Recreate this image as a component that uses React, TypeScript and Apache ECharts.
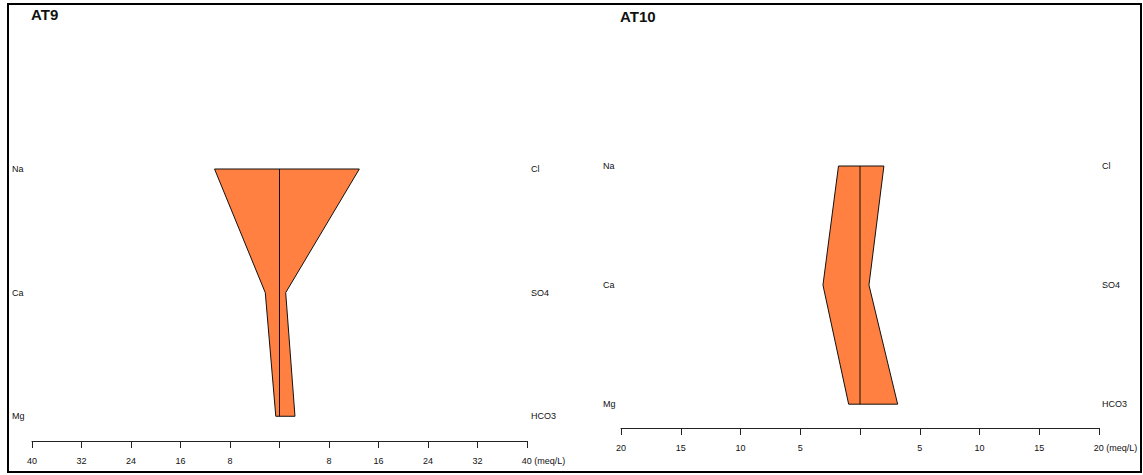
import React, { useEffect, useRef } from "react";
import * as echarts from "echarts";

const cations = ["Na", "Ca", "Mg"];
const anions = ["Cl", "SO4", "HCO3"];
const rowLevels = [2, 1, 0];

const at9Cations = [10.5, 2.3, 0.6];
const at9Anions = [12.9, 1.0, 2.5];

const at10Cations = [1.8, 3.1, 0.95];
const at10Anions = [2.0, 0.75, 3.15];

const at9Max = 40;
const at9Step = 8;
const at10Max = 20;
const at10Step = 5;

const FONT = "Liberation Sans, Arial, sans-serif";
const FILL = "#FF8040";

function stiffRender(cat: number[], an: number[]) {
  return (params: any, api: any) => {
    const pts: number[][] = [];
    for (let i = 0; i < cat.length; i++) pts.push(api.coord([-cat[i], rowLevels[i]]));
    for (let i = an.length - 1; i >= 0; i--) pts.push(api.coord([an[i], rowLevels[i]]));
    const top = api.coord([0, rowLevels[0]]);
    const bot = api.coord([0, rowLevels[rowLevels.length - 1]]);
    return {
      type: "group",
      children: [
        {
          type: "polygon",
          shape: { points: pts },
          style: { fill: FILL, stroke: "#111", lineWidth: 1 },
        },
        {
          type: "line",
          shape: { x1: top[0], y1: top[1], x2: bot[0], y2: bot[1] },
          style: { stroke: "#111", lineWidth: 1 },
        },
      ],
    };
  };
}

function xAxisFor(gridIndex: number, max: number, step: number) {
  return {
    type: "value",
    gridIndex,
    min: -max,
    max: max,
    interval: step,
    axisLine: { show: true, onZero: false, lineStyle: { color: "#222", width: 1 } },
    axisTick: { show: true, length: 7, lineStyle: { color: "#222", width: 1 } },
    splitLine: { show: false },
    axisLabel: {
      margin: 15,
      fontSize: 9,
      fontFamily: FONT,
      color: "#111",
      formatter: (v: number) =>
        v === 0 ? "" : v === max ? "{u|" + Math.abs(v) + " (meq/L)}" : String(Math.abs(v)),
      rich: { u: { fontSize: 9, fontFamily: FONT, color: "#111", padding: [0, 0, 0, 33] } },
    },
  };
}

function yAxisFor(gridIndex: number, names: string[], position: string, margin: number) {
  return {
    type: "value",
    gridIndex,
    position,
    min: -0.2,
    max: 2,
    axisLine: { show: false },
    axisTick: { show: false },
    splitLine: { show: false },
    axisLabel: {
      show: true,
      customValues: rowLevels,
      margin,
      align: "left",
      fontSize: 9,
      fontFamily: FONT,
      color: "#111",
      formatter: (v: number) => {
        const idx = rowLevels.indexOf(Math.round(v));
        return idx >= 0 ? names[idx] : "";
      },
    },
  };
}

export default function App() {
  const ref = useRef<HTMLDivElement>(null);
  useEffect(() => {
    if (!ref.current) return;
    const chart = echarts.init(ref.current, null, { renderer: "svg" });
    chart.setOption({
      animation: false,
      backgroundColor: "#fff",
      title: [
        {
          text: "AT9",
          left: 31,
          top: 7,
          padding: 0,
          textStyle: { fontSize: 15, fontWeight: "bold", fontFamily: FONT, color: "#111" },
        },
        {
          text: "AT10",
          left: 620,
          top: 9,
          padding: 0,
          textStyle: { fontSize: 15, fontWeight: "bold", fontFamily: FONT, color: "#111" },
        },
      ],
      graphic: [
        {
          type: "rect",
          shape: { x: 8, y: 4, width: 1133, height: 468 },
          style: { fill: "none", stroke: "#000", lineWidth: 2 },
          silent: true,
        },
      ],
      grid: [
        { left: 32, top: 169, width: 495, height: 272 },
        { left: 621, top: 166, width: 478, height: 262 },
      ],
      xAxis: [xAxisFor(0, at9Max, at9Step), xAxisFor(1, at10Max, at10Step)],
      yAxis: [
        yAxisFor(0, cations, "left", 20),
        yAxisFor(0, anions, "right", 4),
        yAxisFor(1, cations, "left", 18),
        yAxisFor(1, anions, "right", 3),
      ],
      series: [
        {
          type: "custom",
          xAxisIndex: 0,
          yAxisIndex: 0,
          data: [[0, 0]],
          renderItem: stiffRender(at9Cations, at9Anions),
          clip: false,
        },
        {
          type: "custom",
          xAxisIndex: 1,
          yAxisIndex: 2,
          data: [[0, 0]],
          renderItem: stiffRender(at10Cations, at10Anions),
          clip: false,
        },
      ],
    });
    return () => chart.dispose();
  }, []);
  return (
    <div
      ref={ref}
      style={{ position: "absolute", left: 0, top: 0, width: 1143, height: 475 }}
    />
  );
}
